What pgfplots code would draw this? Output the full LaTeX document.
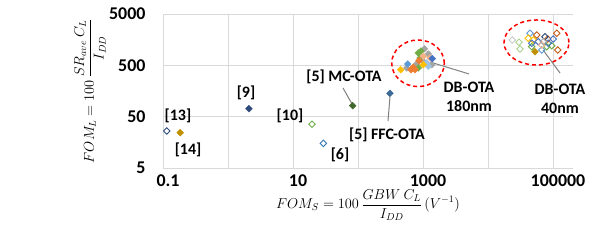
\documentclass[border=0pt]{standalone}
\usepackage{fontspec}
\setmainfont{Carlito}
\usepackage{pgfplots}
\pgfplotsset{compat=1.18}
\definecolor{cgrid}{HTML}{D9D9D9}
\definecolor{cyel}{HTML}{FFC000}
\definecolor{cblue}{HTML}{5B9BD5}
\definecolor{cgrey}{HTML}{A5A5A5}
\definecolor{corange}{HTML}{ED7D31}
\definecolor{cgreen}{HTML}{70AD47}
\definecolor{cpeach}{HTML}{F4B183}
\definecolor{cblue2}{HTML}{4472C4}
\definecolor{clblue}{HTML}{9DC3E6}
\definecolor{cbrown}{HTML}{C55A11}
\definecolor{cnavy}{HTML}{264478}
\definecolor{clgreen}{HTML}{A9D18E}
\definecolor{clgrey}{HTML}{C9C9C9}
\definecolor{cgold}{HTML}{BF9000}
\definecolor{cdkgreen}{HTML}{43682B}
\definecolor{csteel}{HTML}{3E6A98}
\definecolor{cdkblue}{HTML}{2F4B7C}
\definecolor{chblue}{HTML}{2E75B6}
\definecolor{cline}{HTML}{808080}
\pgfplotsset{
  fdia/.style={only marks, mark=square*, mark size=2.4bp, mark options={rotate=45, solid, draw=#1, fill=#1}},
  hdia/.style={only marks, mark=square, mark size=2.3bp, mark options={rotate=45, solid, draw=#1, line width=0.9bp}},
  wdia/.style={only marks, mark=square*, mark size=2.3bp, mark options={rotate=45, solid, draw=#1, fill=white, line width=0.9bp}},
}
\begin{document}
\begin{tikzpicture}
\path[use as bounding box] (-163bp,-81bp) rectangle (430bp,168bp);
\begin{axis}[
  at={(0,0)}, anchor=south west,
  scale only axis, width=410bp, height=154bp,
  xmode=log, ymode=log,
  xmin=0.1, xmax=203000, ymin=5, ymax=5000,
  axis line style={draw=none},
  major tick style={draw=none}, minor tick style={draw=none},
  grid=major, grid style={color=cgrid, line width=0.8bp},
  xtick={0.1,1,10,100,1000,10000,100000},
  xticklabels={0.1,,10,,1000,,100000},
  ytick={5,50,500,5000},
  yticklabels={5,50,500,5000},
  ticklabel style={font=\fontsize{18}{20}\selectfont\bfseries},
  xticklabel style={yshift=-3bp, xshift=5bp},
  yticklabel style={xshift=-14bp},
  xlabel={$\displaystyle FOM_S = 100\,\frac{GBW\ C_L}{I_{DD}}\,(V^{-1})$},
  ylabel={$\displaystyle FOM_L = 100\,\frac{SR_{ave}\ C_L}{I_{DD}}$},
  xlabel style={at={(axis description cs:0.5,-0.240)}, anchor=center, font=\fontsize{14.5}{17}\selectfont},
  ylabel style={at={(axis description cs:-0.178,0.5)}, anchor=center, font=\fontsize{14.5}{17}\selectfont},
  clip=false,
]
% ellipses
\draw[red, line width=1.5bp, dash pattern=on 4bp off 3bp] (axis cs:838,548) ellipse [x radius=26.3bp, y radius=23.3bp];
\draw[red, line width=1.5bp, dash pattern=on 4bp off 3bp] (axis cs:55700,1394) ellipse [x radius=32.5bp, y radius=22.5bp];
% leader lines
\draw[cline, line width=1bp] (axis cs:58.8,181) -- (axis cs:80.9,88.3);
\draw[cline, line width=1bp] (axis cs:289.6,41.2) -- (axis cs:310,121);
% single points
\addplot[wdia=cdkblue] coordinates {(0.114,26.3)};
\addplot[fdia=cgold] coordinates {(0.184,24.4)};
\addplot[fdia=cdkblue] coordinates {(2.1,71.5)};
\addplot[wdia=cgreen] coordinates {(19.6,35.5)};
\addplot[wdia=chblue] coordinates {(29.3,15.1)};
\addplot[fdia=cdkgreen] coordinates {(82.8,81.8)};
\addplot[fdia=csteel] coordinates {(310,142.6)};
% 180nm cluster
\addplot[fdia=cgrey] coordinates {(562,444) (800,532) (1050,1050) (1011,600) (1361,515) (1207,832)};
\addplot[fdia=cgreen] coordinates {(847,871) (899,696) (847,444) (931,952)};
\addplot[fdia=corange] coordinates {(709,459) (653,412) (868,617) (753,412)};
\addplot[fdia=cpeach] coordinates {(1282,696) (1011,751)};
\addplot[fdia=clblue] coordinates {(1140,556) (1207,480)};
\addplot[fdia=cblue] coordinates {(582,532)};
\addplot[fdia=cblue2] coordinates {(1390,677)};
\addplot[fdia=cyel] coordinates {(454,412) (1011,515)};
% 40nm cluster
\addplot[hdia=clgrey] coordinates {(23650,1560)};
\addplot[hdia=clgreen] coordinates {(30000,1407) (31050,1042)};
\addplot[hdia=cblue] coordinates {(44300,2107) (67000,996)};
\addplot[hdia=cyel] coordinates {(49800,1560) (41700,1683)};
\addplot[hdia=cbrown] coordinates {(56100,1951) (82900,1632) (114000,2107) (118000,996)};
\addplot[hdia=cgreen] coordinates {(47000,1155) (95500,1208) (80000,1155)};
\addplot[hdia=cblue2] coordinates {(59400,1445) (101000,1632) (84700,1345) (47000,1345)};
\addplot[hdia=cpeach] coordinates {(67000,1247)};
\addplot[hdia=cnavy] coordinates {(75300,1808)};
\addplot[hdia=cgrey] coordinates {(71000,1445)};
\addplot[fdia=cgold] coordinates {(52800,923)};
\draw[cline, line width=1bp] (axis cs:1282,581) -- (axis cs:5100,339.6);
\draw[cline, line width=1bp] (axis cs:70200,996) -- (axis cs:128000,355);
% labels
\begin{scope}[every node/.style={font=\fontsize{16}{19}\selectfont\bfseries, align=center, inner sep=0pt}]
\node at (axis cs:0.170,51.6) {[13]};
\node at (axis cs:0.243,11.2) {[14]};
\node at (axis cs:1.89,145) {[9]};
\node at (axis cs:8.99,51.6) {[10]};
\node at (axis cs:52.9,8.97) {[6]};
\node at (axis cs:60.9,297) {[5] MC-OTA};
\node at (axis cs:279,22.0) {[5] FFC-OTA};
\node at (axis cs:5100,121) {DB-OTA\\180nm};
\node at (axis cs:128000,111) {DB-OTA\\40nm};
\end{scope}
\end{axis}
\end{tikzpicture}
\end{document}
